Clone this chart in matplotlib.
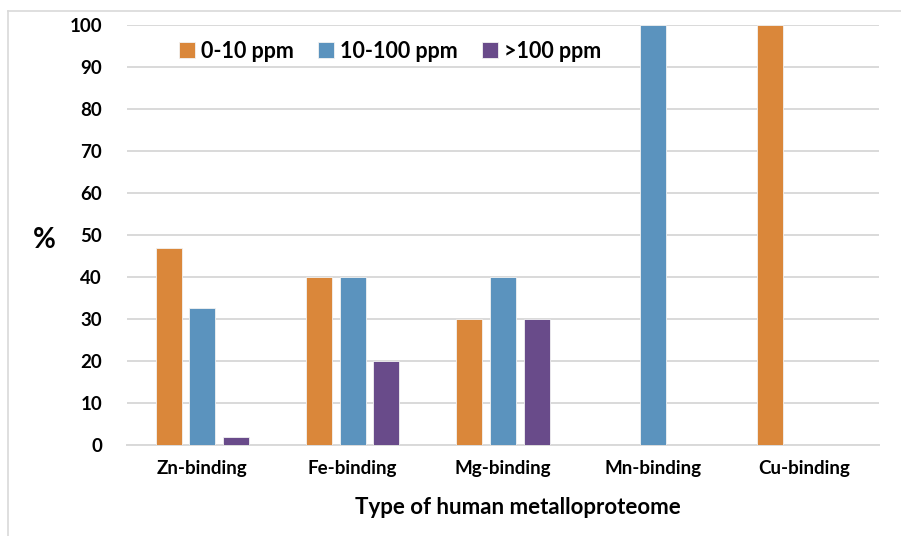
import matplotlib
matplotlib.use("Agg")
import matplotlib.pyplot as plt
import numpy as np
from matplotlib.lines import Line2D

categories = ["Zn-binding", "Fe-binding", "Mg-binding", "Mn-binding", "Cu-binding"]
series_names = ["0-10 ppm", "10-100 ppm", ">100 ppm"]
low = [47, 40, 30, 0, 100]
mid = [32.7, 40, 40, 100, 0]
high = [2, 20, 30, 0, 0]
yticks = list(range(0, 101, 10))

colors = ["#DA873A", "#5B93BE", "#694B8A"]

plt.rcParams['font.family'] = ['Lato', 'DejaVu Sans']
plt.rcParams['font.weight'] = 'bold'

W, H = 901, 536
fig = plt.figure(figsize=(W/100, H/100), dpi=100)
ax = fig.add_axes([127/W, 1-445/H, (879-127)/W, (445-25)/H])

x = np.arange(len(categories))
step = 0.223
width = 0.173
for i, (vals, c, name) in enumerate(zip([low, mid, high], colors, series_names)):
    ax.bar(x + (i-1)*step, vals, width, color=c, label=name,
           edgecolor='#F2F2F2', linewidth=0.6, zorder=3)

ax.set_xlim(-0.5, len(categories)-0.5)
ax.set_ylim(0, 100)
ax.set_yticks(yticks)
ax.set_yticklabels([str(t) for t in yticks], fontsize=13.5, fontweight='bold')
ax.set_xticks(x)
ax.set_xticklabels(categories, fontsize=13.5, fontweight='bold')
ax.tick_params(axis='both', length=0)
ax.tick_params(axis='y', pad=18)
ax.tick_params(axis='x', pad=11)
ax.grid(axis='y', color='#D9D9D9', linewidth=1.4, zorder=0)
for s in ['top', 'right', 'left']:
    ax.spines[s].set_visible(False)
ax.spines['bottom'].set_color('#D9D9D9')
ax.spines['bottom'].set_linewidth(1.4)

ax.set_xlabel("Type of human metalloproteome", fontsize=16, fontweight='bold')
ax.xaxis.set_label_coords((518-127)/(879-127), -(497-445)/(445-25))
fig.text(44/W, 1-240/H, "%", fontsize=20, fontweight='bold', ha='center', va='center')

leg = ax.legend(loc='upper left', bbox_to_anchor=(170/W, 1-32/H), bbox_transform=fig.transFigure,
                ncol=3, frameon=False, prop={'weight': 'bold', 'size': 15.5},
                handlelength=0.75, handleheight=0.75, handletextpad=0.3, columnspacing=1.1,
                borderaxespad=0)

fig.add_artist(Line2D([8/W, 1], [1-11/H, 1-11/H], color='#D9D9D9', linewidth=1.2, transform=fig.transFigure))
fig.add_artist(Line2D([8/W, 8/W], [1-11/H, 0], color='#D9D9D9', linewidth=1.2, transform=fig.transFigure))

fig.savefig("out.png", dpi=100)
